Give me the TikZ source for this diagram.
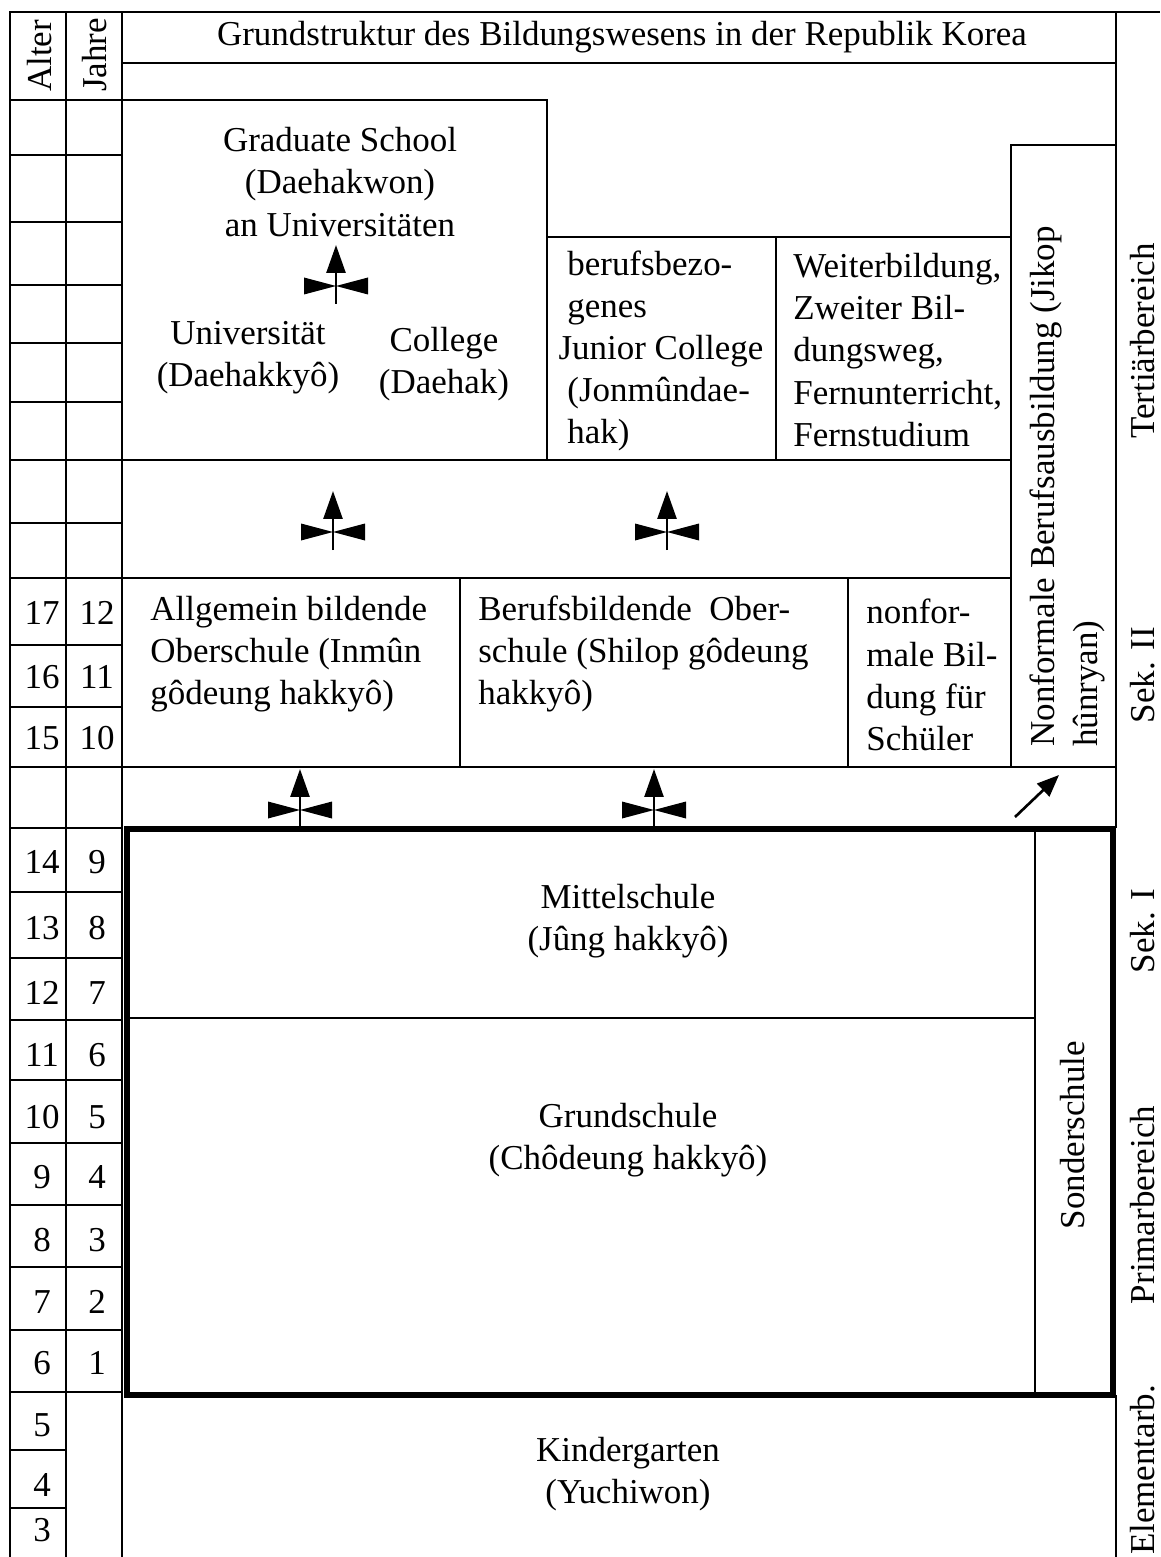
\documentclass[tikz,border=0pt]{standalone}
\usepackage{fontspec}
\setmainfont{Liberation Serif}
\usetikzlibrary{arrows.meta}
\tikzset{thinline/.style={line width=1.1pt},
	thickline/.style={line width=3.4pt},
	lbl/.style={inner sep=0pt, font=\fontsize{19.9}{24}\selectfont},
	sidelbl/.style={lbl, rotate=90},
	mergearrow/.pic={
		\fill (-32,-8.5) -- (0,0) -- (-32,8.5) -- cycle;
		\fill (32,-8.5) -- (0,0) -- (32,8.5) -- cycle;
		\draw[line width=1.5pt, -{Triangle[length=15.9pt,width=10.8pt]}] (0,18) -- (0,-41);
	}}

\begin{document}
\begin{tikzpicture}[x=0.02cm, y=-0.02cm]
		\useasboundingbox (0,0) rectangle (1160,1557);
		% frame and columns
		\draw[thinline] (10,1557) -- (10,12) -- (1160,12);
		\draw[thinline] (1116,12) -- (1116,828);
		\draw[thinline] (1116,1395) -- (1116,1557);
		\draw[thinline] (66,12) -- (66,1557);
		\draw[thinline] (122,12) -- (122,1557);
		\draw[thinline] (122,63) -- (1116,63);
		\draw[thinline] (10,100) -- (547,100) -- (547,460);
		\draw[thinline] (1011,767) -- (1011,145) -- (1116,145);
		\draw[thinline] (547,237) -- (1011,237);
		\draw[thinline] (776,237) -- (776,460);
		\draw[thinline] (10,460) -- (1011,460);
		\draw[thinline] (10,578) -- (1011,578);
		\draw[thinline] (460,578) -- (460,767);
		\draw[thinline] (848,578) -- (848,767);
		\draw[thinline] (10,767) -- (1116,767);
		\foreach \y in {155,222,285,343,402,523,645,707,828,892,958,1020,1080,1143,1205,1267,1330,1392}
			\draw[thinline] (10,\y) -- (122,\y);
		\foreach \y in {1450,1508}
			\draw[thinline] (10,\y) -- (66,\y);
		% compulsory schooling
		\draw[thickline] (127,829) rectangle (1113,1395);
		\draw[thinline] (127,1018) -- (1035,1018);
		\draw[thinline] (1035,829) -- (1035,1395);
		% texts
		\node[lbl] (titel) at (622,37) {Grundstruktur des Bildungswesens in der Republik Korea};
		\node[sidelbl] (alter) at (40,56) {Alter};
		\node[sidelbl] (jahre) at (95,55) {Jahre};
		\node[lbl, align=center] (grad) at (340,182) {Graduate School\\(Daehakwon)\\an Universitäten};
		\node[lbl, align=center] (uni) at (248,358) {Universität\\(Daehakkyô)};
		\node[lbl, align=center] (coll) at (444,364) {College\\(Daehak)};
		\node[lbl, align=left, anchor=west] (junior) at (567,351) {berufsbezo-\\genes\\\hspace*{-5pt}Junior College\\(Jonmûndae-\\hak)};
		\node[lbl, align=left, anchor=west] (weiter) at (793,350) {Weiterbildung,\\Zweiter Bil-\\dungsweg,\\Fernunterricht,\\Fernstudium};
		\node[lbl, align=left, anchor=west] (inmun) at (150,654) {Allgemein bildende\\Oberschule (Inmûn\\gôdeung hakkyô)};
		\node[lbl, align=left, anchor=west] (shilop) at (478,654) {Berufsbildende\ \ Ober-\\schule (Shilop gôdeung\\hakkyô)};
		\node[lbl, align=left, anchor=west] (nonschueler) at (866,675) {nonfor-\\male Bil-\\dung für\\Schüler};
		\node[lbl, rotate=90, align=left, anchor=north west] (jikop) at (1030,747) {Nonformale Berufsausbildung (Jikop\\hûnryan)};
		\node[lbl, align=center] (mittel) at (628,921) {Mittelschule\\(Jûng hakkyô)};
		\node[lbl, align=center] (grund) at (628,1140) {Grundschule\\(Chôdeung hakkyô)};
		\node[sidelbl] (sonder) at (1073,1135) {Sonderschule};
		\node[lbl, align=center] (kinder) at (628,1474) {Kindergarten\\(Yuchiwon)};
		\node[sidelbl] (tert) at (1143,341) {Tertiärbereich};
		\node[sidelbl] (sekzwei) at (1143,675) {Sek. II};
		\node[sidelbl] (sekeins) at (1143,931) {Sek. I};
		\node[sidelbl] (primar) at (1143,1205) {Primarbereich};
		\node[sidelbl] (elementar) at (1143,1470) {Elementarb.};
		% age and school year
		\foreach \a/\j/\y in {17/12/613,16/11/677,15/10/738,14/9/862,13/8/928,12/7/993,11/6/1055,10/5/1117,9/4/1177,8/3/1240,7/2/1302,6/1/1363}{
			\node[lbl] (alter\a) at (42,\y) {\a};
			\node[lbl] (jahr\j) at (97,\y) {\j};
		}
		\foreach \a/\y in {5/1425,4/1485,3/1530}
			\node[lbl] (alter\a) at (42,\y) {\a};
		% transitions
		\pic at (336,286) {mergearrow};
		\pic at (333,532) {mergearrow};
		\pic at (667,532) {mergearrow};
		\pic at (300,810) {mergearrow};
		\pic at (654,810) {mergearrow};
		\coordinate (diagstart) at (1015,817);
		\coordinate (diagend) at (1059,775);
		\draw[line width=1.5pt, -{Triangle[length=12.5pt,width=10pt]}] (diagstart) -- (diagend);
\end{tikzpicture}
\end{document}
